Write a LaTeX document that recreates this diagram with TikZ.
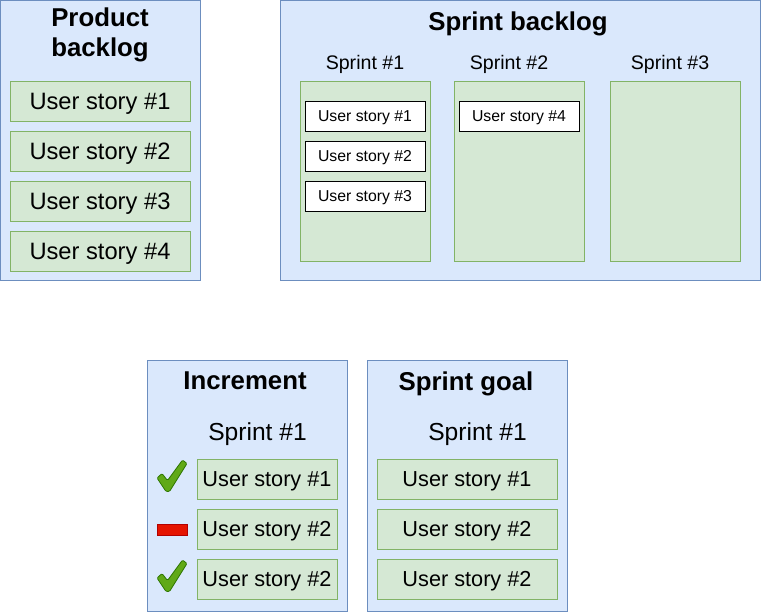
\documentclass[tikz,border=0pt]{standalone}
\usepackage{fontspec}
\setmainfont{Liberation Sans}
\usetikzlibrary{positioning}
\definecolor{blockfill}{HTML}{DAE8FC}
\definecolor{blockline}{HTML}{6C8EBF}
\definecolor{storyfill}{HTML}{D5E8D4}
\definecolor{storyline}{HTML}{82B366}
\definecolor{donefill}{HTML}{60A917}
\definecolor{doneline}{HTML}{2D7600}
\definecolor{failfill}{HTML}{E51400}
\definecolor{failline}{HTML}{B20000}
\tikzset{
  block/.style={draw=blockline, fill=blockfill, line width=1pt, inner sep=0pt, outer sep=0pt, anchor=north west},
  lane/.style={draw=storyline, fill=storyfill, line width=.8pt, inner sep=0pt, outer sep=0pt, anchor=north west, minimum width=130pt, minimum height=180pt},
  story/.style={draw=storyline, fill=storyfill, line width=.8pt, inner sep=0pt, outer sep=0pt, anchor=north west, minimum height=40pt, text depth=0pt},
  card/.style={draw=black, fill=white, line width=.8pt, inner sep=0pt, outer sep=0pt, anchor=north west, minimum width=120pt, minimum height=30pt, text depth=0pt, font=\fontsize{15.8}{18}\selectfont},
  heading/.style={anchor=base, inner sep=0pt, font=\fontsize{25.8}{30}\selectfont\bfseries},
  label/.style={anchor=base, inner sep=0pt, font=\fontsize{19.6}{22}\selectfont},
  donemark/.pic={\draw[fill=donefill, draw=doneline, line width=.8pt, rounded corners=1.2pt]
    (0,18) -- (5,13.5) -- (10.5,20.5) -- (25.5,0) -- (30,3.5) -- (12.5,31.5) -- (9,31.5) -- cycle;},
}
\begin{document}
\begin{tikzpicture}[x=1pt, y=-1pt]
  \useasboundingbox (0,0) rectangle (761,612);

  % product backlog
  \node[block, minimum width=200pt, minimum height=280pt] (pb) at (0,1) {};
  \node[heading, align=center] (pbtitle) at (100,56.5) {Product\\backlog};
  \node[story, minimum width=180pt, font=\fontsize{23.7}{26}\selectfont] (pb1) at (10,81) {User story \#1};
  \node[story, minimum width=180pt, font=\fontsize{23.7}{26}\selectfont, below=10pt of pb1] (pb2) {User story \#2};
  \node[story, minimum width=180pt, font=\fontsize{23.7}{26}\selectfont, below=10pt of pb2] (pb3) {User story \#3};
  \node[story, minimum width=180pt, font=\fontsize{23.7}{26}\selectfont, below=10pt of pb3] (pb4) {User story \#4};

  % sprint backlog
  \node[block, minimum width=480pt, minimum height=280pt] (sb) at (280,1) {};
  \node[heading] (sbtitle) at (518,31) {Sprint backlog};
  \node[label] (sl1) at (365,70) {Sprint \#1};
  \node[label] (sl2) at (509,70) {Sprint \#2};
  \node[label] (sl3) at (670,70) {Sprint \#3};
  \node[lane] (lane1) at (300,81) {};
  \node[lane] (lane2) at (454,81) {};
  \node[lane] (lane3) at (610,81) {};
  \node[card] (c1) at (305,101) {User story \#1};
  \node[card, below=10pt of c1] (c2) {User story \#2};
  \node[card, below=10pt of c2] (c3) {User story \#3};
  \node[card] (c4) at (459,101) {User story \#4};

  % increment
  \node[block, minimum width=200pt, minimum height=250pt] (inc) at (147,361) {};
  \node[heading] (inctitle) at (245,389.5) {Increment};
  \node[label, font=\fontsize{24.6}{28}\selectfont] (incsprint) at (257.5,440) {Sprint \#1};
  \node[story, minimum width=140pt, font=\fontsize{21.7}{24}\selectfont] (in1) at (197,459) {User story \#1};
  \node[story, minimum width=140pt, font=\fontsize{21.7}{24}\selectfont, below=10pt of in1] (in2) {User story \#2};
  \node[story, minimum width=140pt, font=\fontsize{21.7}{24}\selectfont, below=10pt of in2] (in3) {User story \#2};
  \pic at (157,460) {donemark};
  \pic at (157,560) {donemark};
  \draw[fill=failfill, draw=failline, line width=.6pt] (157,524) rectangle (187,535);

  % sprint goal
  \node[block, minimum width=200pt, minimum height=250pt] (goal) at (367,361) {};
  \node[heading] (goaltitle) at (466,390.5) {Sprint goal};
  \node[label, font=\fontsize{24.6}{28}\selectfont] (goalsprint) at (477.5,440.5) {Sprint \#1};
  \node[story, minimum width=180pt, font=\fontsize{21.7}{24}\selectfont] (g1) at (377,459) {User story \#1};
  \node[story, minimum width=180pt, font=\fontsize{21.7}{24}\selectfont, below=10pt of g1] (g2) {User story \#2};
  \node[story, minimum width=180pt, font=\fontsize{21.7}{24}\selectfont, below=10pt of g2] (g3) {User story \#2};
\end{tikzpicture}
\end{document}
